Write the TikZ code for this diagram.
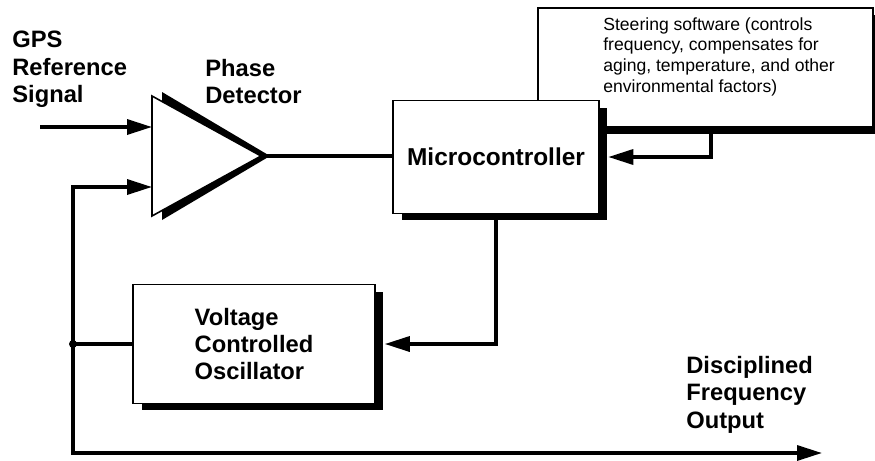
\documentclass[tikz,border=0pt]{standalone}
\usepackage{fontspec}
\setmainfont{Liberation Sans}
\usepackage{tikz}
\usetikzlibrary{arrows.meta, shadows}
\tikzstyle{blockbox} = [draw=black, line width=0.9pt, fill=white, drop shadow={shadow xshift=0.17cm, shadow yshift=-0.14cm, fill=black, opacity=1}]
\tikzstyle{arrow} = [line width=1.9pt, -{Triangle[length=0.5cm,width=0.3cm]}]
\tikzstyle{wire} = [line width=1.9pt]
\tikzstyle{lbl} = [font=\fontsize{13.5}{15.5}\selectfont\bfseries, align=left, inner sep=0pt, anchor=north west]

\begin{document}
\begin{tikzpicture}[x=0.02cm, y=-0.02cm]
\useasboundingbox (0,0) rectangle (875,460);

% boxes
\node[
    blockbox,
    minimum width=6.7cm,
    minimum height=2.38cm
] (steer) at (705.5,67.5) {};
\node[
    anchor=north west,
    inner sep=0pt,
    align=left,
    font=\fontsize{10}{11.8}\selectfont
] (steertext) at (603,17) {Steering software (controls\\frequency, compensates for\\aging, temperature, and other\\environmental factors)};

\node[
    blockbox,
    minimum width=4.12cm,
    minimum height=2.26cm,
    font=\fontsize{13.9}{16}\selectfont\bfseries
] (micro) at (496,157) {Microcontroller};

\node[
    blockbox,
    minimum width=4.84cm,
    minimum height=2.38cm,
    align=left,
    font=\fontsize{13.5}{15.6}\selectfont\bfseries
] (vco) at (254,344) {Voltage\\Controlled\\Oscillator};

% phase detector
\fill (162,92) -- (270,156) -- (162,220) -- cycle;
\draw[fill=white, line width=0.9pt] (152,96) -- (261,156) -- (152,216) -- cycle;
\coordinate (pdin1) at (152,127);
\coordinate (pdin2) at (152,187);
\coordinate (pdout) at (261,156);

% labels
\node[lbl] (gps) at (12,31) {GPS\\Reference\\Signal};
\node[lbl] (pdlabel) at (205,59) {Phase\\Detector};
\node[lbl] (outlabel) at (686,356) {Disciplined\\Frequency\\Output};

% connectors
\coordinate (gpsin) at (40,127);
\coordinate (fb) at (73,344);
\coordinate (out) at (822,453);
\coordinate (steerout) at (711,127);

\draw[arrow] (gpsin) -- (pdin1);
\draw[wire] (pdout) -- (micro.west |- pdout);
\draw[arrow] (steerout) |- ([xshift=0.17cm]micro.east);
\draw[arrow] (micro.south) |- ([xshift=0.18cm]vco.east);
\draw[wire] (vco.west) -- (fb);
\draw[arrow] (fb) |- (pdin2);
\draw[arrow] (fb) |- (out);
\fill (fb) circle (4);

\end{tikzpicture}
\end{document}
